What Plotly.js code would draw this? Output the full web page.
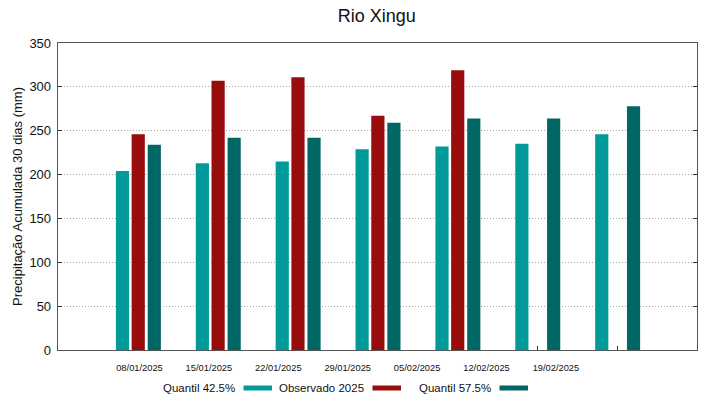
<!DOCTYPE html>
<html>
<head>
<meta charset="utf-8">
<script src="https://cdn.plot.ly/plotly-3.0.1.min.js"></script>
<style>html,body{margin:0;padding:0;background:#fff;}#chart{width:719px;height:399px;}</style>
</head>
<body>
<div id="chart"></div>
<script>
// ---- data ----
const dateLabels = ["08/01/2025","15/01/2025","22/01/2025","29/01/2025","05/02/2025","12/02/2025","19/02/2025"];
const groupIndex = [0,1,2,3,4,5,6];
const quantil425 = [204, 213, 215, 229, 232, 235, 246];
const observado2025 = [246, 307, 311, 267, 319, null, null];
const quantil575 = [234, 242, 242, 259, 264, 264, 278];
const seriesNames = ["Quantil 42.5%", "Observado 2025", "Quantil 57.5%"];
const seriesColors = ["#009b99", "#990c0c", "#006764"];

// ---- layout helpers ----
const barW = 0.165;
const offsets = [-0.275, -0.078, 0.123];
const labelPos = dateLabels.map((d, i) => 0.02 + i * 0.869);
const font = "Liberation Sans, Arial, sans-serif";

const values = [quantil425, observado2025, quantil575];
const traces = values.map((v, k) => ({
  type: "bar", x: groupIndex, y: v, name: seriesNames[k],
  width: barW, offset: offsets[k],
  marker: {color: seriesColors[k], line: {width: 0}},
  showlegend: false, hoverinfo: "x+y"
}));

// legend drawn gnuplot-style: text then colour sample
const legRight = [237, 366, 493];
const annotations = [];
const shapes = [];
seriesNames.forEach((n, k) => {
  const xr = (legRight[k] - 58) / 639;
  annotations.push({text: n, xref: "paper", yref: "paper", x: xr, y: (350 - 388) / 307,
    xanchor: "right", yanchor: "middle", showarrow: false, font: {family: font, size: 11.5, color: "#111"}});
  shapes.push({type: "rect", xref: "paper", yref: "paper",
    x0: (legRight[k] + 6.5 - 58) / 639, x1: (legRight[k] + 35 - 58) / 639,
    y0: (350 - 390.5) / 307, y1: (350 - 385.5) / 307,
    fillcolor: seriesColors[k], line: {width: 0}});
});

const layout = {
  width: 719, height: 399,
  margin: {l: 58, r: 22, t: 43, b: 49},
  paper_bgcolor: "#fff", plot_bgcolor: "#fff",
  barmode: "overlay",
  title: {text: "Rio Xingu", font: {family: font, size: 18, color: "#111"}, x: 0.524, xanchor: "center", y: 0.96, yanchor: "middle"},
  xaxis: {range: [-1, 7], tickmode: "array", tickvals: labelPos, ticktext: dateLabels, ticks: "",
    minor: {tickmode: "array", tickvals: groupIndex, ticks: "inside", ticklen: 4, tickcolor: "#333", showgrid: false},
    showgrid: false, zeroline: false, showline: true, mirror: true, linecolor: "#555", linewidth: 1.3,
    layer: "below traces", tickfont: {family: font, size: 9.3, color: "#111"}, ticklabelstandoff: 9, fixedrange: true},
  yaxis: {range: [0, 350], dtick: 50, tick0: 0, ticks: "inside", ticklen: 4, tickcolor: "#333", mirror: "ticks",
    showline: true, linecolor: "#555", linewidth: 1.3, showgrid: true, gridcolor: "#a8a8a8", griddash: "1px,2px", gridwidth: 1,
    zeroline: false, tickfont: {family: font, size: 13, color: "#111"}, ticklabelstandoff: 3,
    title: {text: "Precipitação Acumulada 30 dias (mm)", font: {family: font, size: 13, color: "#111"}, standoff: 3}},
  annotations: annotations,
  shapes: shapes
};

Plotly.newPlot("chart", traces, layout, {displayModeBar: false, staticPlot: true});
</script>
</body>
</html>
